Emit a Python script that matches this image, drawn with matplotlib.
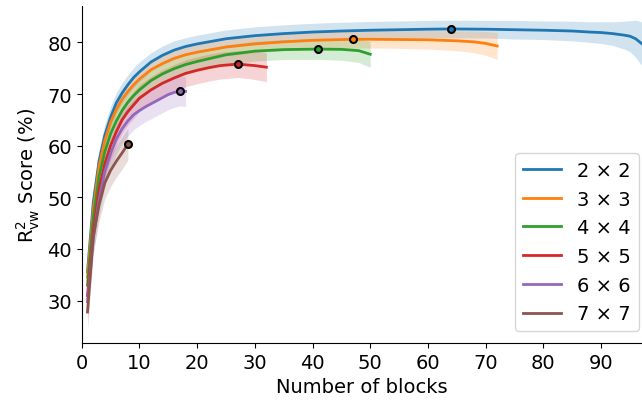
import matplotlib
matplotlib.use("Agg")
import matplotlib.pyplot as plt

# number of blocks (x) and mean R^2_vw score (%) per grid size
blocks_2 = [1, 2, 3, 4, 5, 6, 7, 8, 9, 10, 12, 14, 16, 18, 20, 25, 30, 35, 40, 45,
            50, 55, 60, 64, 70, 75, 80, 85, 88, 90, 92, 94, 95, 96, 97, 98]
score_2 = [35.6, 49.0, 57.0, 62.0, 65.5, 68.3, 70.2, 71.8, 73.2, 74.3, 76.2, 77.5, 78.5, 79.2, 79.7, 80.7,
           81.3, 81.7, 82.0, 82.2, 82.35, 82.45, 82.55, 82.6, 82.55, 82.45, 82.35, 82.2, 82.0, 81.9,
           81.7, 81.4, 81.2, 80.7, 79.8, 79.0]
spread_2 = [2.6, 2.5, 2.3, 2.2, 2.1, 2.0, 2.0, 1.9, 1.9, 1.9, 1.8, 1.8, 1.8, 1.7, 1.7, 1.7,
            1.7, 1.7, 1.7, 1.7, 1.7, 1.7, 1.7, 1.7, 1.7, 1.8, 1.8, 1.9, 2.0, 2.1,
            2.3, 2.7, 3.0, 3.6, 4.2, 4.5]

blocks_3 = [1, 2, 3, 4, 5, 6, 7, 8, 9, 10, 12, 14, 16, 18, 20, 25, 30, 35, 40, 47,
            50, 55, 60, 65, 68, 70, 72]
score_3 = [34.6, 47.5, 56.0, 61.0, 64.5, 67.0, 69.0, 70.5, 71.8, 72.9, 74.7, 75.9, 76.9, 77.6, 78.1, 79.1,
           79.7, 80.1, 80.4, 80.6, 80.6, 80.55, 80.5, 80.3, 80.1, 79.8, 79.3]
spread_3 = [2.6, 2.5, 2.3, 2.2, 2.1, 2.0, 2.0, 1.9, 1.9, 1.8, 1.8, 1.7, 1.7, 1.7, 1.7, 1.7,
            1.7, 1.7, 1.7, 1.7, 1.7, 1.7, 1.8, 1.9, 2.1, 2.3, 2.6]

blocks_4 = [1, 2, 3, 4, 5, 6, 7, 8, 9, 10, 12, 14, 16, 18, 20, 25, 30, 35, 41, 45, 48, 50]
score_4 = [33.0, 46.0, 54.0, 58.8, 62.3, 64.8, 66.8, 68.4, 69.7, 70.8, 72.6, 73.9, 74.9, 75.7, 76.3,
           77.6, 78.3, 78.6, 78.7, 78.65, 78.4, 77.7]
spread_4 = [2.8, 2.6, 2.5, 2.3, 2.2, 2.1, 2.0, 2.0, 2.0, 1.9, 1.9, 1.9, 1.9, 1.9, 1.9,
            1.9, 1.9, 1.9, 2.0, 2.1, 2.3, 2.5]

blocks_5 = [1, 2, 3, 4, 5, 6, 7, 8, 9, 10, 12, 14, 16, 18, 20, 22, 24, 27, 29, 30, 32]
score_5 = [31.0, 43.5, 51.5, 56.5, 60.0, 62.7, 65.0, 66.6, 67.9, 69.2, 70.8, 72.1, 73.1, 74.0, 74.6,
           75.1, 75.5, 75.8, 75.6, 75.5, 75.2]
spread_5 = [3.0, 2.9, 2.8, 2.7, 2.7, 2.6, 2.6, 2.6, 2.6, 2.6, 2.6, 2.6, 2.6, 2.6, 2.6,
            2.6, 2.6, 2.6, 2.6, 2.7, 2.8]

blocks_6 = [1, 2, 3, 4, 5, 6, 7, 8, 9, 10, 11, 12, 13, 14, 15, 16, 17, 18]
score_6 = [29.8, 42.0, 49.5, 55.0, 58.5, 61.3, 63.3, 64.8, 66.0, 66.8, 67.5, 68.1, 68.7, 69.3, 69.9,
           70.3, 70.6, 70.5]
spread_6 = [3.2, 3.0, 3.0, 2.9, 2.9, 2.9, 2.9, 2.9, 2.9, 2.9, 2.9, 2.9, 2.9, 2.9, 2.9, 2.9, 2.9, 2.9]

blocks_7 = [1, 2, 3, 4, 5, 6, 7, 8]
score_7 = [27.8, 42.5, 48.5, 52.8, 55.2, 57.0, 58.6, 60.3]
spread_7 = [3.5, 3.3, 3.2, 3.1, 3.1, 3.1, 3.1, 3.1]

labels = ["2 × 2", "3 × 3", "4 × 4", "5 × 5", "6 × 6", "7 × 7"]
best_blocks = [64, 47, 41, 27, 17, 8]

series = [
    (blocks_2, score_2, spread_2),
    (blocks_3, score_3, spread_3),
    (blocks_4, score_4, spread_4),
    (blocks_5, score_5, spread_5),
    (blocks_6, score_6, spread_6),
    (blocks_7, score_7, spread_7),
]

plt.rcParams["font.size"] = 14

fig = plt.figure(figsize=(6.42, 4.06), dpi=100)
ax = fig.add_axes([0.1273, 0.1527, 0.8727, 0.8308])

for i, (x, y, s) in enumerate(series):
    c = "C%d" % i
    lo = [a - b for a, b in zip(y, s)]
    hi = [a + b for a, b in zip(y, s)]
    ax.fill_between(x, lo, hi, color=c, alpha=0.2, linewidth=0)
    ax.plot(x, y, color=c, lw=2, label=labels[i])
    k = x.index(best_blocks[i])
    ax.plot([x[k]], [y[k]], "o", color=c, ms=5, mec="black", mew=1.5, zorder=5)

ax.set_xlim(0, 97.1)
ax.set_ylim(21.8, 87.1)
ax.set_xticks(range(0, 100, 10))
ax.set_yticks([30, 40, 50, 60, 70, 80])
ax.spines["top"].set_visible(False)
ax.spines["right"].set_visible(False)
ax.set_xlabel("Number of blocks")
ax.set_ylabel(r"$\mathrm{R}^2_{\mathrm{vw}}$ Score (%)")

ax.legend(loc="lower right", bbox_to_anchor=(0.994, 0.035), borderaxespad=0)

fig.savefig("out.png", dpi=100)
